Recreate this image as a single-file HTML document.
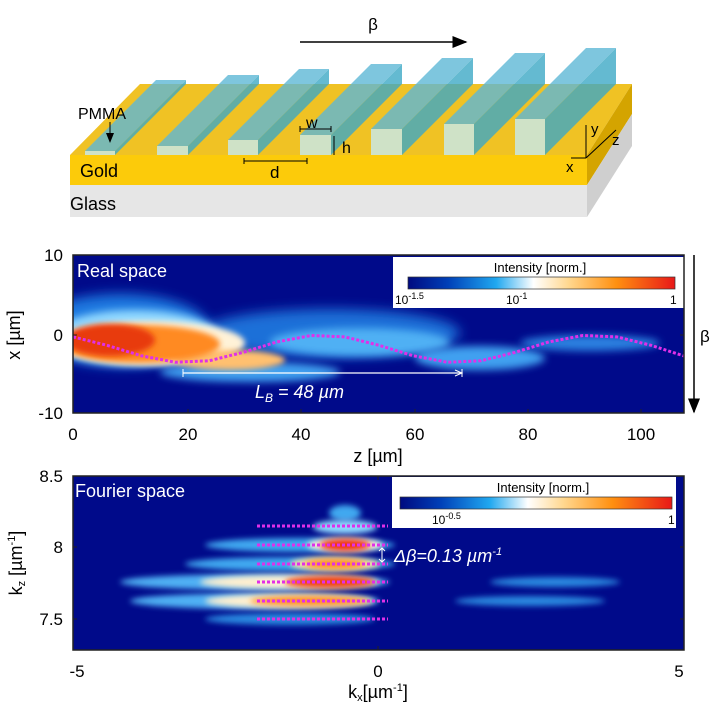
<!DOCTYPE html>
<html><head><meta charset="utf-8"><style>
html,body{margin:0;padding:0;background:#fff;}
svg{display:block;font-family:"Liberation Sans",sans-serif;}
</style></head><body>
<svg width="712" height="712" viewBox="0 0 712 712" xmlns="http://www.w3.org/2000/svg">
<defs>
<filter id="b4" x="-30%" y="-100%" width="160%" height="300%"><feGaussianBlur stdDeviation="4"/></filter>
<filter id="b3" x="-30%" y="-100%" width="160%" height="300%"><feGaussianBlur stdDeviation="3"/></filter>
<filter id="b6" x="-30%" y="-100%" width="160%" height="300%"><feGaussianBlur stdDeviation="6"/></filter>
<clipPath id="c1"><rect x="73" y="255" width="611" height="158"/></clipPath>
<clipPath id="c2"><rect x="73" y="476" width="611" height="174"/></clipPath>
<linearGradient id="cm" x1="0" x2="1" y1="0" y2="0">
<stop offset="0" stop-color="#000a80"/><stop offset="0.15" stop-color="#0040b8"/>
<stop offset="0.33" stop-color="#20a8f0"/><stop offset="0.47" stop-color="#ffffff"/>
<stop offset="0.6" stop-color="#ffd890"/><stop offset="0.78" stop-color="#ff9010"/>
<stop offset="1" stop-color="#e81818"/></linearGradient>
<marker id="ah" markerWidth="10" markerHeight="8" refX="9" refY="4" orient="auto"><path d="M0,0 L10,4 L0,8 z" fill="#000"/></marker>
</defs>

<!-- schematic -->
<polygon points="70,155 587,155 632,84 140,84" fill="#f0c224"/>
<polygon points="587,155 632,84 632,114 587,185" fill="#d4a400"/>
<polygon points="587,185 632,114 632,146 587,217" fill="#cfcfcf"/>
<rect x="70" y="155" width="517" height="30" fill="#fccb0a"/>
<rect x="70" y="185" width="517" height="32" fill="#e6e6e6"/>
<g opacity="0.8">
<g><polygon points="85,151 115,151 186,80 156,80" fill="#5fb8d6"/><polygon points="115,151 186,80 186,84 115,155" fill="#3ea9c6"/><rect x="85" y="151" width="30" height="4" fill="#c8eaf0"/></g>
<g><polygon points="157,146 188,146 259,75 228,75" fill="#5fb8d6"/><polygon points="188,146 259,75 259,84 188,155" fill="#3ea9c6"/><rect x="157" y="146" width="31" height="9" fill="#c8eaf0"/></g>
<g><polygon points="228,140 258,140 329,69 299,69" fill="#5fb8d6"/><polygon points="258,140 329,69 329,84 258,155" fill="#3ea9c6"/><rect x="228" y="140" width="30" height="15" fill="#c8eaf0"/></g>
<g><polygon points="300,135 331,135 402,64 371,64" fill="#5fb8d6"/><polygon points="331,135 402,64 402,84 331,155" fill="#3ea9c6"/><rect x="300" y="135" width="31" height="20" fill="#c8eaf0"/></g>
<g><polygon points="371,129 402,129 473,58 442,58" fill="#5fb8d6"/><polygon points="402,129 473,58 473,84 402,155" fill="#3ea9c6"/><rect x="371" y="129" width="31" height="26" fill="#c8eaf0"/></g>
<g><polygon points="444,124 474,124 545,53 515,53" fill="#5fb8d6"/><polygon points="474,124 545,53 545,84 474,155" fill="#3ea9c6"/><rect x="444" y="124" width="30" height="31" fill="#c8eaf0"/></g>
<g><polygon points="515,119 545,119 616,48 586,48" fill="#5fb8d6"/><polygon points="545,119 616,48 616,84 545,155" fill="#3ea9c6"/><rect x="515" y="119" width="30" height="36" fill="#c8eaf0"/></g>
</g>
<line x1="300" y1="42" x2="466" y2="42" stroke="#000" stroke-width="1.5" marker-end="url(#ah)"/>
<text x="373" y="30" font-size="17" text-anchor="middle">β</text>
<text x="78" y="119" font-size="16">PMMA</text>
<line x1="110" y1="122" x2="110" y2="142" stroke="#000" marker-end="url(#ah)"/>
<text x="80" y="177" font-size="18">Gold</text>
<text x="70" y="210" font-size="18">Glass</text>
<text x="306" y="128" font-size="16">w</text>
<path d="M300,129 h31 M300,126 v6 M331,126 v6" stroke="#000"/>
<text x="342" y="153" font-size="16">h</text>
<path d="M334,136 v19" stroke="#000"/>
<path d="M244,161 h63 M244,158 v6 M307,158 v6" stroke="#000"/>
<text x="270" y="178" font-size="17">d</text>
<path d="M586,158 v-33 M586,158 l-15,0 M586,158 l30,-28" stroke="#000" fill="none"/>
<text x="591" y="134" font-size="15">y</text>
<text x="612" y="145" font-size="15">z</text>
<text x="566" y="172" font-size="15">x</text>

<!-- middle plot -->
<rect x="73" y="255" width="611" height="158" fill="#000a8a"/>
<g clip-path="url(#c1)">
<ellipse cx="120" cy="330" rx="90" ry="36" fill="#1a78e0" filter="url(#b6)"/>
<ellipse cx="330" cy="333" rx="130" ry="24" fill="#1a70d8" filter="url(#b6)"/>
<ellipse cx="250" cy="372" rx="90" ry="10" fill="#40a0f0" filter="url(#b4)"/>
<ellipse cx="480" cy="358" rx="65" ry="12" fill="#40a0f0" filter="url(#b4)"/>
<ellipse cx="590" cy="343" rx="70" ry="8" fill="#2a80e0" filter="url(#b4)"/>
<ellipse cx="360" cy="342" rx="90" ry="14" fill="#50b0f4" filter="url(#b4)"/>
<ellipse cx="135" cy="338" rx="85" ry="28" fill="#90d8ff" filter="url(#b4)"/>
<ellipse cx="150" cy="343" rx="95" ry="22" fill="#fff2d8" filter="url(#b3)"/>
<ellipse cx="230" cy="360" rx="55" ry="10" fill="#ffc070" filter="url(#b3)"/>
<ellipse cx="140" cy="344" rx="80" ry="19" fill="#ff8a20" filter="url(#b3)"/>
<ellipse cx="110" cy="340" rx="45" ry="16" fill="#e83a10" filter="url(#b3)"/>
</g>
<polyline points="73,336.9 107,345.3 141,355.7 175,362.2 209,360.8 243,352.4 277,341.9 311,335.5 345,336.9 379,345.3 413,355.7 447,362.2 481,360.8 515,352.4 549,341.9 583,335.5 617,336.9 651,345.3 684,356" fill="none" stroke="#e030e8" stroke-width="3" stroke-dasharray="3 2" stroke-linejoin="round"/>
<line x1="183" y1="373" x2="462" y2="373" stroke="#fff" stroke-width="1.2"/>
<path d="M183,369 v8 M462,369 v8 M455,370 l7,3 l-7,3" stroke="#fff" fill="none"/>
<text x="255" y="398" font-size="18" fill="#fff" font-style="italic">L<tspan font-size="12" dy="4">B</tspan><tspan dy="-4"> = 48 µm</tspan></text>
<text x="77" y="277" font-size="18" fill="#fff">Real space</text>
<rect x="393" y="257" width="291" height="51" fill="#fff"/>
<text x="540" y="272" font-size="13" text-anchor="middle">Intensity [norm.]</text>
<rect x="408" y="277" width="267" height="12" fill="url(#cm)" stroke="#333" stroke-width="0.7"/>
<text x="395" y="304" font-size="12">10<tspan font-size="9" dy="-5">-1.5</tspan></text>
<text x="506" y="304" font-size="12">10<tspan font-size="9" dy="-5">-1</tspan></text>
<text x="670" y="304" font-size="12">1</text>
<rect x="73" y="255" width="611" height="158" fill="none" stroke="#222" stroke-width="1.5"/>
<g stroke="#222"><path d="M188,413 v-4 M301,413 v-4 M415,413 v-4 M528,413 v-4 M641,413 v-4 M73,335 h4 M684,335 h-4"/></g>
<g font-size="17" text-anchor="middle"><text x="73" y="440">0</text><text x="188" y="440">20</text><text x="301" y="440">40</text><text x="415" y="440">60</text><text x="528" y="440">80</text><text x="641" y="440">100</text></g>
<g font-size="17" text-anchor="end"><text x="63" y="261">10</text><text x="63" y="341">0</text><text x="63" y="419">-10</text></g>
<text x="378" y="462" font-size="18" text-anchor="middle">z [µm]</text>
<text transform="translate(20,335) rotate(-90)" font-size="18" text-anchor="middle">x [µm]</text>
<line x1="694" y1="255" x2="694" y2="412" stroke="#000" stroke-width="1.5" marker-end="url(#ah)"/>
<text x="700" y="342" font-size="17">β</text>

<!-- bottom plot -->
<rect x="73" y="476" width="611" height="174" fill="#000a8a"/>
<g clip-path="url(#c2)">
<ellipse cx="345" cy="513" rx="16" ry="8" fill="#40a8f0" filter="url(#b3)"/>
<ellipse cx="345" cy="527" rx="32" ry="7" fill="#90d8ff" filter="url(#b3)"/>
<ellipse cx="300" cy="545" rx="95" ry="7" fill="#40a8f0" filter="url(#b3)"/>
<ellipse cx="290" cy="564" rx="105" ry="7" fill="#40a8f0" filter="url(#b3)"/>
<ellipse cx="255" cy="582" rx="135" ry="8" fill="#50b0f4" filter="url(#b3)"/>
<ellipse cx="255" cy="601" rx="125" ry="8" fill="#50b0f4" filter="url(#b3)"/>
<ellipse cx="290" cy="619" rx="85" ry="6" fill="#2a88e0" filter="url(#b3)"/>
<ellipse cx="555" cy="582" rx="65" ry="5" fill="#2a88e0" filter="url(#b3)"/>
<ellipse cx="530" cy="601" rx="75" ry="5" fill="#2a88e0" filter="url(#b3)"/>
<ellipse cx="345" cy="545" rx="38" ry="7" fill="#fff0d8" filter="url(#b3)"/>
<ellipse cx="335" cy="564" rx="45" ry="7" fill="#ffe0a0" filter="url(#b3)"/>
<ellipse cx="290" cy="582" rx="90" ry="7" fill="#fff0d0" filter="url(#b3)"/>
<ellipse cx="290" cy="601" rx="85" ry="7" fill="#fff0d0" filter="url(#b3)"/>
<ellipse cx="345" cy="545" rx="25" ry="6" fill="#f03010" filter="url(#b3)"/>
<ellipse cx="335" cy="564" rx="30" ry="5" fill="#ff9020" filter="url(#b3)"/>
<ellipse cx="330" cy="582" rx="45" ry="6" fill="#f04010" filter="url(#b3)"/>
<ellipse cx="310" cy="601" rx="60" ry="5" fill="#ff9020" filter="url(#b3)"/>
</g>
<g stroke="#e030e8" stroke-width="3" stroke-dasharray="3 2"><path d="M257,526 H388 M257,545 H388 M257,564 H388 M257,582 H388 M257,601 H388 M257,619 H388"/></g>
<path d="M382,548 v14 M379,551 l3,-3 l3,3 M379,559 l3,3 l3,-3" stroke="#fff" fill="none"/>
<text x="394" y="562" font-size="18" fill="#fff" font-style="italic">Δβ=0.13 µm<tspan font-size="11" dy="-7">-1</tspan></text>
<text x="75" y="497" font-size="18" fill="#fff">Fourier space</text>
<rect x="392" y="477" width="284" height="51" fill="#fff"/>
<text x="543" y="492" font-size="13" text-anchor="middle">Intensity [norm.]</text>
<rect x="400" y="497" width="272" height="12" fill="url(#cm)" stroke="#333" stroke-width="0.7"/>
<text x="432" y="524" font-size="12">10<tspan font-size="9" dy="-5">-0.5</tspan></text>
<text x="668" y="524" font-size="12">1</text>
<rect x="73" y="476" width="611" height="174" fill="none" stroke="#222" stroke-width="1.5"/>
<g stroke="#222"><path d="M378,476 v4 M378,650 v-4 M73,547 h4 M73,619 h4 M684,547 h-4 M684,619 h-4"/></g>
<g font-size="17" text-anchor="middle"><text x="77" y="677">-5</text><text x="378" y="677">0</text><text x="679" y="677">5</text></g>
<g font-size="17" text-anchor="end"><text x="63" y="482">8.5</text><text x="63" y="553">8</text><text x="63" y="625">7.5</text></g>
<text x="378" y="698" font-size="18" text-anchor="middle">k<tspan font-size="11" dy="3">x</tspan><tspan dy="-3">[µm</tspan><tspan font-size="11" dy="-7">-1</tspan><tspan dy="7">]</tspan></text>
<text transform="translate(22,563) rotate(-90)" font-size="18" text-anchor="middle">k<tspan font-size="11" dy="3">z</tspan><tspan dy="-3"> [µm</tspan><tspan font-size="11" dy="-7">-1</tspan><tspan dy="7">]</tspan></text>
</svg>
</body></html>
